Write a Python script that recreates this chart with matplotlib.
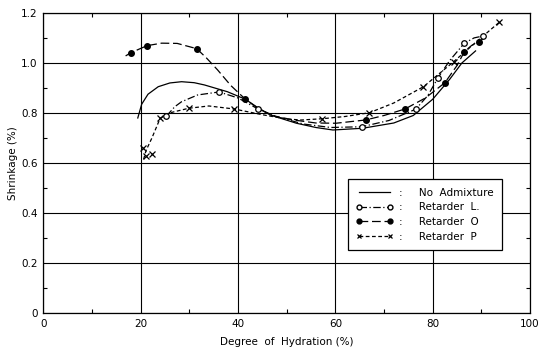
import matplotlib
matplotlib.use('Agg')
import matplotlib.pyplot as plt
from matplotlib.lines import Line2D
from matplotlib.ticker import MultipleLocator

# curve traces (degree of hydration %, shrinkage %)
noadm_x = [19.4, 20.2, 21.5, 23.6, 26.0, 28.4, 31.0, 33.1, 37.8, 41.5, 44.0, 46.6,
           52.0, 56.0, 59.5, 65.6, 72.0, 76.0, 80.0, 83.5, 86.0, 88.8]
noadm_y = [0.780, 0.835, 0.875, 0.905, 0.920, 0.925, 0.921, 0.912, 0.885, 0.855, 0.822, 0.792,
           0.759, 0.742, 0.732, 0.739, 0.760, 0.790, 0.855, 0.935, 1.000, 1.048]

retL_x = [25.3, 27.0, 28.4, 31.7, 36.1, 40.0, 44.1, 48.0, 53.4, 59.0, 65.4, 71.0,
          76.5, 79.0, 81.1, 83.5, 86.5, 88.5, 90.4]
retL_y = [0.788, 0.825, 0.845, 0.872, 0.884, 0.860, 0.816, 0.785, 0.756, 0.742, 0.745, 0.770,
          0.815, 0.870, 0.941, 1.010, 1.079, 1.100, 1.108]
retL_px = [25.3, 36.1, 44.1, 65.4, 76.5, 81.1, 86.5, 90.4]
retL_py = [0.788, 0.884, 0.816, 0.745, 0.815, 0.941, 1.079, 1.108]

retO_x = [16.9, 18.0, 21.3, 24.3, 27.5, 31.5, 33.5, 35.8, 38.5, 41.5, 44.0, 47.0,
          51.4, 56.0, 60.1, 66.2, 70.0, 74.3, 78.5, 82.5, 85.0, 86.5, 88.0, 89.5, 90.6]
retO_y = [1.028, 1.041, 1.069, 1.079, 1.078, 1.057, 1.020, 0.972, 0.910, 0.855, 0.820, 0.790,
          0.772, 0.760, 0.759, 0.772, 0.790, 0.816, 0.860, 0.921, 0.990, 1.045, 1.070, 1.085, 1.100]
retO_px = [18.0, 21.3, 31.5, 41.5, 66.2, 74.3, 82.5, 86.5, 89.5]
retO_py = [1.041, 1.069, 1.057, 0.855, 0.772, 0.816, 0.921, 1.045, 1.085]

retP_x = [20.6, 21.1, 22.3, 24.0, 26.5, 29.9, 34.0, 39.2, 45.0, 50.0, 53.0, 57.3,
          62.0, 67.0, 72.0, 78.1, 84.3, 89.0, 93.7]
retP_y = [0.615, 0.650, 0.700, 0.779, 0.803, 0.819, 0.828, 0.816, 0.793, 0.776, 0.772, 0.777,
          0.786, 0.801, 0.840, 0.905, 1.005, 1.085, 1.163]
retP_px = [20.4, 21.1, 22.3, 24.0, 29.9, 39.2, 57.3, 67.0, 78.1, 84.3, 93.7]
retP_py = [0.659, 0.628, 0.635, 0.779, 0.819, 0.816, 0.777, 0.801, 0.905, 1.005, 1.163]

fig = plt.figure(figsize=(5.42, 3.48), dpi=100)
ax = fig.add_axes([0.080, 0.100, 0.898, 0.863])

lw = 0.9
ax.plot(noadm_x, noadm_y, color='black', lw=lw, ls='-')
ax.plot(retL_x, retL_y, color='black', lw=lw, ls=(0, (6, 2, 1, 2)))
ax.plot(retO_x, retO_y, color='black', lw=lw, ls=(0, (7, 3)))
ax.plot(retP_x, retP_y, color='black', lw=lw, ls=(0, (3, 2)))

ax.plot(retL_px, retL_py, 'o', ms=4, mfc='white', mec='black', mew=0.9)
ax.plot(retO_px, retO_py, 'o', ms=4, mfc='black', mec='black')
ax.plot(retP_px, retP_py, 'x', ms=4, color='black', mew=0.9)

ax.set_xlim(0, 100)
ax.set_ylim(0, 1.2)
ax.set_xticks([0, 20, 40, 60, 80, 100])
ax.set_xticklabels(['0', '20', '40', '60', '80', '100'])
ax.set_yticks([0, 0.2, 0.4, 0.6, 0.8, 1.0, 1.2])
ax.set_yticklabels(['0', '0.2', '0.4', '0.6', '0.8', '1.0', '1.2'])
ax.xaxis.set_minor_locator(MultipleLocator(10))
ax.yaxis.set_minor_locator(MultipleLocator(0.1))
ax.tick_params(which='both', direction='in', top=True, right=True, labelsize=7.5, width=0.8)
ax.tick_params(which='major', length=0, pad=4)
ax.tick_params(which='minor', length=3)
ax.grid(True, which='major', color='black', lw=0.8)
for s in ax.spines.values():
    s.set_linewidth(0.9)

ax.set_xlabel('Degree  of  Hydration (%)', fontsize=7.5, labelpad=6)
ax.set_ylabel('Shrinkage (%)', fontsize=7.5, labelpad=2)

handles = [
    Line2D([], [], color='black', lw=lw, ls='-'),
    Line2D([], [], color='black', lw=lw, ls=(0, (6, 2, 1, 2)), marker='o', ms=3.5, mfc='white', mec='black'),
    Line2D([], [], color='black', lw=lw, ls=(0, (7, 3)), marker='o', ms=3.5, mfc='black', mec='black'),
    Line2D([], [], color='black', lw=lw, ls=(0, (3, 2)), marker='x', ms=3.5, mew=0.9),
]
labels = [':     No  Admixture', ':     Retarder  L.', ':     Retarder  O', ':     Retarder  P']
leg = ax.legend(handles, labels, loc='lower left', bbox_to_anchor=(0.625, 0.21),
                borderaxespad=0, fontsize=7.5, numpoints=2, handlelength=3.6,
                handletextpad=0.5, labelspacing=0.45, borderpad=0.8, fancybox=False,
                framealpha=1, edgecolor='black')
leg.get_frame().set_linewidth(0.9)

fig.savefig('out.png', dpi=100)
